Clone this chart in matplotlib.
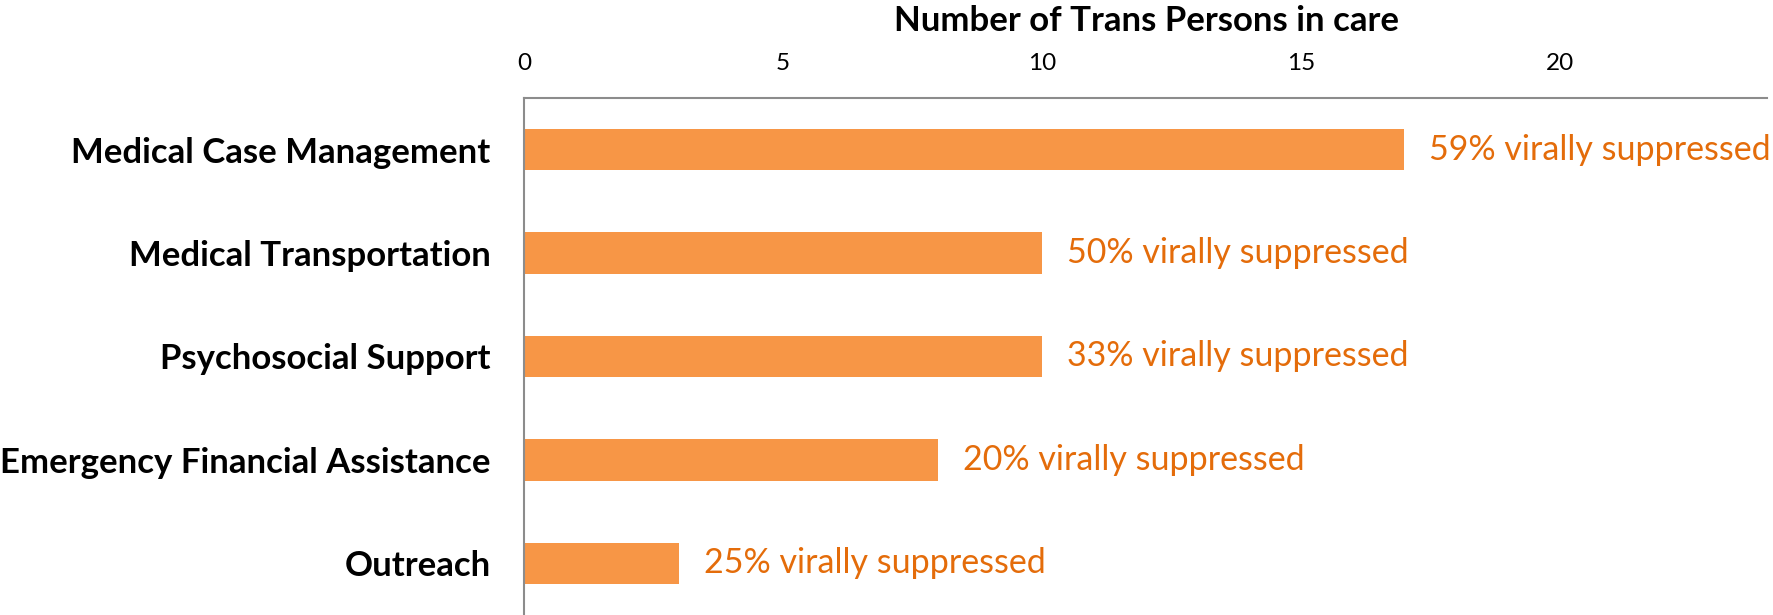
import matplotlib.pyplot as plt

# data
categories = ['Medical Case Management', 'Medical Transportation', 'Psychosocial Support',
              'Emergency Financial Assistance', 'Outreach']
persons_in_care = [17, 10, 10, 8, 3]
suppressed_labels = ['59% virally suppressed', '50% virally suppressed', '33% virally suppressed',
                     '20% virally suppressed', '25% virally suppressed']
x_ticks = [0, 5, 10, 15, 20]

bar_color = '#F79646'
text_color = '#E46C0A'
spine_color = '#8C8C8C'

plt.rcParams['font.family'] = ['Lato', 'DejaVu Sans']

fig = plt.figure(figsize=(17.73, 6.15), dpi=100)
ax = fig.add_axes([0.2955, 0.0, 0.9966 - 0.2955, 0.8407])

y = list(range(len(categories)))
ax.barh(y, persons_in_care, height=0.4, color=bar_color)
ax.set_ylim(len(categories) - 0.5, -0.5)
ax.set_xlim(0, 24)

for yi, v, lab in zip(y, persons_in_care, suppressed_labels):
    ax.annotate(lab, (v, yi), xytext=(18, 0), textcoords='offset points',
                va='center', ha='left', color=text_color, fontsize=24.5,
                annotation_clip=False)

ax.set_yticks(y)
ax.set_yticklabels(categories, fontsize=25, fontweight='bold')
ax.tick_params(axis='y', length=0, pad=24)

ax.xaxis.tick_top()
ax.set_xticks(x_ticks)
ax.set_xticklabels([str(t) for t in x_ticks], fontsize=17.5)
ax.tick_params(axis='x', length=0, pad=17)

for s in ['right', 'bottom']:
    ax.spines[s].set_visible(False)
for s in ['left', 'top']:
    ax.spines[s].set_color(spine_color)
    ax.spines[s].set_linewidth(1.5)

fig.text(1147 / 1773, 1 - 21 / 615, 'Number of Trans Persons in care', ha='center', va='center',
         fontsize=25, fontweight='bold')

fig.savefig('out.png', dpi=100)
